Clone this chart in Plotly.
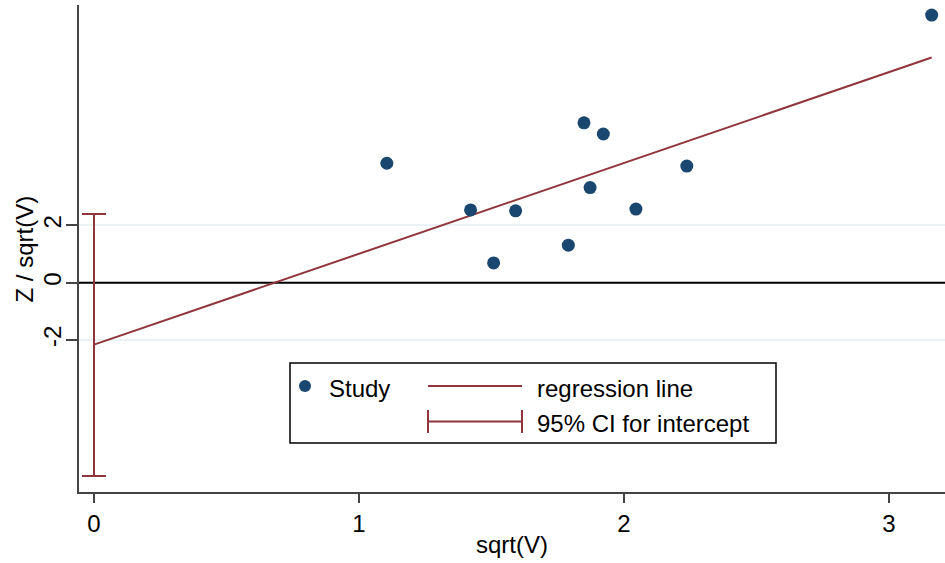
import plotly.graph_objects as go

# ---- data ----
sqrt_v = [1.105, 1.421, 1.508, 1.591, 1.790, 1.849, 1.872, 1.922, 2.045, 2.237, 3.161]
z_over_sqrt_v = [4.17, 2.54, 0.69, 2.51, 1.31, 5.58, 3.32, 5.19, 2.57, 4.07, 9.34]
intercept = -2.16
slope = 3.17
ci_low = -6.75
ci_high = 2.40
x_ticks = [0, 1, 2, 3]
y_ticks = [-2, 0, 2]
y_tick_labels = ["-2", "0", "2"]

NAVY = "#1a476f"
MAROON = "#90353b"
FONT = "Arial, Liberation Sans, Helvetica, sans-serif"
FS = 24

W, H = 945, 563
L, R, T, B = 79, 0, 5, 71
x_range = [-0.0566, 3.2113]
y_range = [-7.305, 9.693]

pw, ph = W - L - R, H - T - B


def px2x(px):
    return x_range[0] + (px - L) / pw * (x_range[1] - x_range[0])


def py2y(py):
    return y_range[0] + (H - B - py) / ph * (y_range[1] - y_range[0])


fig = go.Figure()

# zero reference line
fig.add_trace(go.Scatter(
    x=x_range, y=[0, 0], mode="lines", line=dict(color="black", width=2),
    showlegend=False, hoverinfo="skip"))

# regression line
x_end = max(sqrt_v)
fig.add_trace(go.Scatter(
    x=[0, x_end], y=[intercept, intercept + slope * x_end],
    mode="lines", line=dict(color=MAROON, width=2), showlegend=False, hoverinfo="skip"))

# CI for intercept
fig.add_trace(go.Scatter(
    x=[0], y=[intercept], mode="markers",
    marker=dict(size=1, color="rgba(0,0,0,0)"),
    error_y=dict(type="data", symmetric=False,
                 array=[ci_high - intercept], arrayminus=[intercept - ci_low],
                 color=MAROON, thickness=2, width=12),
    showlegend=False, hoverinfo="skip"))

# studies
fig.add_trace(go.Scatter(
    x=sqrt_v, y=z_over_sqrt_v, mode="markers",
    marker=dict(color=NAVY, size=13, line=dict(width=0)),
    showlegend=False))

shapes = []
# manual legend
lx0, lx1, ly0, ly1 = 290, 776, 363, 443
shapes.append(dict(type="rect", xref="x", yref="y",
                   x0=px2x(lx0), x1=px2x(lx1), y0=py2y(ly0), y1=py2y(ly1),
                   line=dict(color="black", width=1.5), fillcolor="white", layer="above"))
shapes.append(dict(type="circle", xref="x", yref="y",
                   x0=px2x(299), x1=px2x(311), y0=py2y(380), y1=py2y(392),
                   line=dict(width=0), fillcolor=NAVY, layer="above"))
shapes.append(dict(type="line", xref="x", yref="y",
                   x0=px2x(428), x1=px2x(522), y0=py2y(386), y1=py2y(386),
                   line=dict(color=MAROON, width=2), layer="above"))
shapes.append(dict(type="line", xref="x", yref="y",
                   x0=px2x(428), x1=px2x(522), y0=py2y(421.5), y1=py2y(421.5),
                   line=dict(color=MAROON, width=2), layer="above"))
for cx in (428, 522):
    shapes.append(dict(type="line", xref="x", yref="y",
                       x0=px2x(cx), x1=px2x(cx), y0=py2y(410), y1=py2y(433),
                       line=dict(color=MAROON, width=2), layer="above"))

annotations = [
    dict(x=px2x(327), y=py2y(388), xref="x", yref="y", text="Study", showarrow=False,
         xanchor="left", yanchor="middle", font=dict(family=FONT, size=FS, color="black")),
    dict(x=px2x(535), y=py2y(388), xref="x", yref="y", text="regression line", showarrow=False,
         xanchor="left", yanchor="middle", font=dict(family=FONT, size=FS, color="black")),
    dict(x=px2x(535), y=py2y(423), xref="x", yref="y", text="95% CI for intercept", showarrow=False,
         xanchor="left", yanchor="middle", font=dict(family=FONT, size=FS, color="black")),
    # y-axis title
    dict(x=(24 - L) / pw, y=0.5, xref="paper", yref="paper", text="Z / sqrt(V)",
         showarrow=False, textangle=-90, xanchor="center", yanchor="middle",
         font=dict(family=FONT, size=FS, color="black")),
]

fig.update_layout(
    width=W, height=H,
    margin=dict(l=L, r=R, t=T, b=B, pad=0),
    paper_bgcolor="white", plot_bgcolor="white",
    font=dict(family=FONT, size=FS, color="black"),
    shapes=shapes, annotations=annotations,
    showlegend=False,
    xaxis=dict(range=x_range, tickvals=x_ticks, ticks="outside", ticklen=9, tickwidth=1.5,
               tickcolor="#444", showline=True, linecolor="#444", linewidth=2,
               showgrid=False, zeroline=False,
               title=dict(text="sqrt(V)", font=dict(size=FS), standoff=0),
               tickfont=dict(size=FS)),
    yaxis=dict(range=y_range, tickvals=y_ticks, ticktext=y_tick_labels,
               ticks="outside", ticklen=11, tickwidth=1.5, ticklabelstandoff=-5,
               tickcolor="#444", showline=True, linecolor="#444", linewidth=2,
               showgrid=True, gridcolor="#eaf2f3", gridwidth=2, zeroline=False,
               tickangle=-90, tickfont=dict(size=FS)),
)

fig.write_html("out.html")
